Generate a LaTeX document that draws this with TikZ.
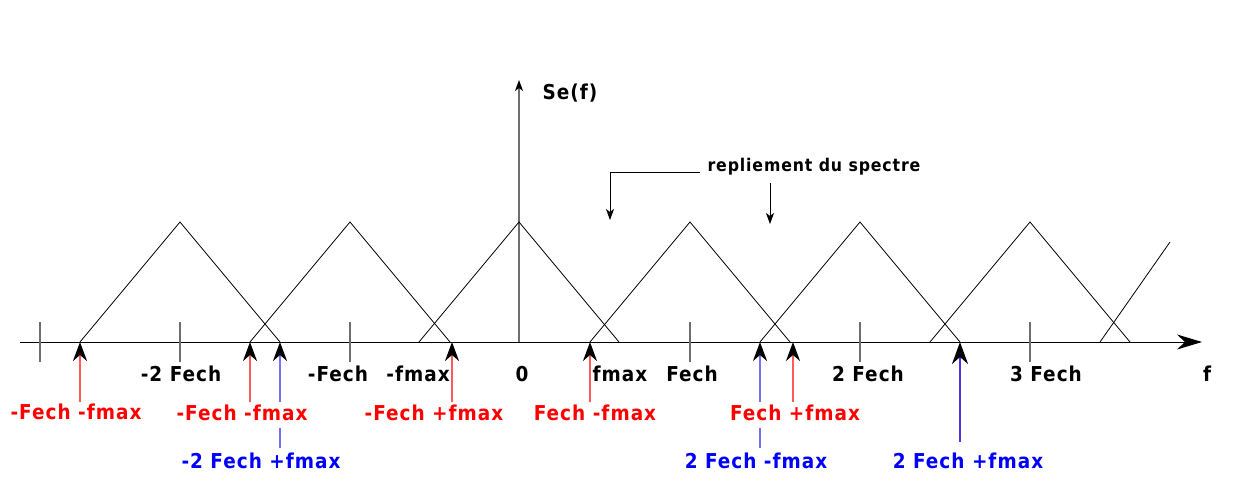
\documentclass[tikz,border=0pt]{standalone}
\usepackage{fontspec}
\setmainfont{DejaVu Sans Condensed}[LetterSpace=5]
\usetikzlibrary{arrows.meta}
\definecolor{lred}{RGB}{255,90,90}
\definecolor{lblue}{RGB}{120,110,240}
\definecolor{dblue}{RGB}{80,50,225}
\definecolor{tred}{RGB}{255,0,0}
\definecolor{tblue}{RGB}{0,0,255}
\definecolor{tickgray}{RGB}{110,110,110}
\tikzset{
  lab/.style={font=\bfseries\fontsize{20.5}{21}\selectfont, inner sep=0pt, anchor=center},
  redlab/.style={lab, text=tred},
  bluelab/.style={lab, text=tblue},
  tri/.style={draw=black, line width=0.8pt},
  tickmark/.style={draw=tickgray, line width=1.2pt},
  stemred/.style={draw=lred, line width=1.8pt, -{Stealth[length=19pt,width=14pt,inset=6pt,color=black]}},
  stemblue/.style={draw=lblue, line width=1.8pt, -{Stealth[length=19pt,width=14pt,inset=6pt,color=black]}},
  stembig/.style={draw=dblue, line width=2pt, -{Stealth[length=22pt,width=16pt,inset=7pt,color=black]}},
  segblue/.style={draw=lblue, line width=1.8pt},
  smallarrow/.style={draw=black, line width=0.8pt, -{Stealth[length=11pt,width=8pt,inset=3pt]}},
}
\begin{document}
\begin{tikzpicture}[x=1pt,y=-1pt]
\useasboundingbox (0,0) rectangle (1244,503);
% axes
\coordinate (xs) at (20,342);
\coordinate (xe) at (1202,342);
\draw[black, line width=1pt, -{Stealth[length=25pt,width=15pt,inset=8pt]}] (xs) -- (xe);
\coordinate (o) at (519,342);
\coordinate (ytop) at (519,80);
\draw[tickgray, line width=1.4pt, -{Stealth[length=11pt,width=8pt,inset=3pt,color=black]}] (o) -- (ytop);
\node[lab] (se) at (570,93) {Se(f)};
\node[lab] (fl) at (1207,374) {f};
% triangles
\foreach \c in {180,350,519,690,860,1030}{
  \draw[tri] (\c-100,342) -- (\c,222) -- (\c+100,342);
}
\draw[tri] (1100,342) -- (1170,242);
% ticks
\foreach \c in {40,180,350,690,860,1030}{
  \draw[tickmark] (\c,322) -- (\c,362);
}
% axis labels
\node[lab] (m2f) at (181,374) {-2 Fech};
\node[lab] (m1f) at (338,374) {-Fech};
\node[lab] (mfm) at (418,374) {-fmax};
\node[lab] (zero) at (522,374) {0};
\node[lab] (fm) at (620,374) {fmax};
\node[lab] (p1f) at (692,374) {Fech};
\node[lab] (p2f) at (868,374) {2 Fech};
\node[lab] (p3f) at (1046,374) {3 Fech};
% axis points
\coordinate (a1) at (80,342);
\coordinate (a2) at (250,342);
\coordinate (a3) at (280,342);
\coordinate (a4) at (452,342);
\coordinate (a5) at (590,342);
\coordinate (a6) at (760,342);
\coordinate (a7) at (793,342);
\coordinate (a8) at (960,342);
% red labels
\node[redlab] (r1) at (76,412) {-Fech -fmax};
\node[redlab] (r2) at (242,413) {-Fech -fmax};
\node[redlab] (r3) at (434,413) {-Fech +fmax};
\node[redlab] (r4) at (595,413) {Fech -fmax};
\node[redlab] (r5) at (795,413) {Fech +fmax};
% blue labels
\node[bluelab] (b1) at (261,461) {-2 Fech +fmax};
\node[bluelab] (b2) at (756,461) {2 Fech -fmax};
\node[bluelab] (b3) at (968,461) {2 Fech +fmax};
% stems
\draw[stemred] (a1 |- 0,402) -- (a1);
\draw[stemred] (a2 |- 0,402) -- (a2);
\draw[stemred] (a4 |- 0,402) -- (a4);
\draw[stemred] (a5 |- 0,402) -- (a5);
\draw[stemred] (a7 |- 0,402) -- (a7);
\draw[stemblue] (a3 |- 0,402) -- (a3);
\draw[segblue] (a3 |- 0,448) -- (a3 |- 0,428);
\draw[stemblue] (a6 |- 0,402) -- (a6);
\draw[segblue] (a6 |- 0,448) -- (a6 |- 0,428);
\draw[stembig] (a8 |- 0,442) -- (a8);
% repliement
\node[lab, font=\bfseries\fontsize{17.5}{18}\selectfont] (rep) at (814,167) {repliement du spectre};
\coordinate (k1) at (610,172);
\coordinate (t1) at (610,220);
\coordinate (t2) at (770,224);
\draw[smallarrow] (rep.west |- k1) ++(-7,0) -- (k1) -- (t1);
\draw[smallarrow] (770,183) -- (t2);
\end{tikzpicture}
\end{document}
